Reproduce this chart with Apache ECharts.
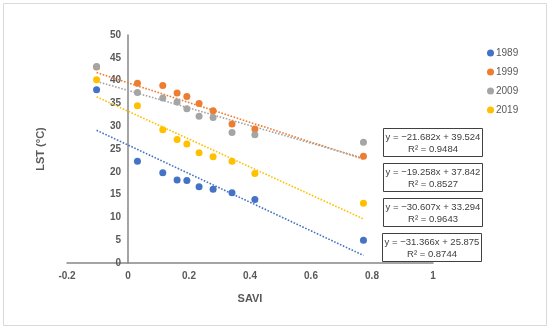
<!DOCTYPE html>
<html>
<head>
<meta charset="utf-8">
<script src="https://cdn.jsdelivr.net/npm/echarts@6/dist/echarts.min.js"></script>
<style>
html,body{margin:0;padding:0;background:#fff;}
#c{width:550px;height:330px;}
</style>
</head>
<body>
<div id="c"></div>
<script>
// SAVI values (x)
const saviX = [-0.103, 0.031, 0.114, 0.161, 0.193, 0.233, 0.279, 0.341, 0.416, 0.772];
// LST values per year (y)
const lst1989 = [38.0, 22.3, 19.8, 18.2, 18.1, 16.7, 16.2, 15.4, 13.9, 5.0];
const lst1999 = [43.0, 39.4, 38.9, 37.3, 36.5, 35.0, 33.4, 30.5, 29.4, 23.4];
const lst2009 = [43.1, 37.4, 36.2, 35.3, 33.8, 32.2, 31.9, 28.6, 28.1, 26.5];
const lst2019 = [40.2, 34.5, 29.2, 27.1, 26.1, 24.2, 23.3, 22.3, 19.6, 13.1];
const years = ['1989', '1999', '2009', '2019'];
const colors = ['#4472C4', '#ED7D31', '#A5A5A5', '#FFC000'];
// trendline equations shown in the chart
const slopes = [-31.366, -21.682, -19.258, -30.607];
const intercepts = [25.875, 39.524, 37.842, 33.294];
const r2 = ['0.8744', '0.9484', '0.8527', '0.9643'];
const xTicks = [-0.2, 0, 0.2, 0.4, 0.6, 0.8, 1];
const yTicks = [0, 5, 10, 15, 20, 25, 30, 35, 40, 45, 50];

const allY = [lst1989, lst1999, lst2009, lst2019];
const chart = echarts.init(document.getElementById('c'));

const gridLeft = 67, gridRight = 117;
const xMin = xTicks[0], xMax = xTicks[xTicks.length - 1];
// shift y axis (line + labels) to x = 0, as in the original
const yOffset = -(550 - gridLeft - gridRight) * (0 - xMin) / (xMax - xMin);

const series = [];
years.forEach((yr, i) => {
  const x0 = Math.min(...saviX), x1 = Math.max(...saviX);
  series.push({
    name: 'trend' + yr,
    type: 'line',
    data: [[x0, slopes[i] * x0 + intercepts[i]], [x1, slopes[i] * x1 + intercepts[i]]],
    symbol: 'none',
    lineStyle: { color: colors[i], width: 1.6, type: [1.6, 1.6] },
    silent: true,
    z: 1
  });
});
[0, 1, 2, 3].forEach(i => {
  series.push({
    name: years[i],
    type: 'scatter',
    data: saviX.map((x, k) => [x, allY[i][k]]),
    symbol: 'circle',
    symbolSize: 7,
    itemStyle: { color: colors[i], opacity: 1 },
    z: 3
  });
});

const boxOrder = [1, 2, 3, 0];
const boxTops = [128, 163, 198, 233];
const boxLefts = [383, 383, 383, 382];
const graphics = [{
  type: 'rect', shape: { x: 3.5, y: 3.5, width: 543, height: 322 },
  style: { fill: null, stroke: '#d9d9d9', lineWidth: 1 }, silent: true, z: -1
}];
boxOrder.forEach((i, k) => {
  const s = slopes[i];
  const txt = 'y = \u2212' + Math.abs(s).toFixed(3) + 'x + ' + intercepts[i].toFixed(3) + '\nR\u00B2 = ' + r2[i];
  graphics.push({
    type: 'group', left: boxLefts[k], top: boxTops[k],
    children: [
      { type: 'rect', shape: { x: 0.5, y: 0.5, width: 99, height: 28 },
        style: { fill: '#fff', stroke: '#404040', lineWidth: 1 } },
      { type: 'text', x: 50, y: 15,
        style: { text: txt, fill: '#404040', font: '9.5px "Liberation Sans", Arial, sans-serif',
                 textAlign: 'center', textVerticalAlign: 'middle', lineHeight: 12 } }
    ]
  });
});

chart.setOption({
  animation: false,
  backgroundColor: '#fff',
  grid: { left: gridLeft, right: gridRight, top: 35, bottom: 67, containLabel: false, outerBoundsMode: 'none' },
  legend: {
    data: years,
    orient: 'vertical',
    left: 482, top: 43,
    itemWidth: 7, itemHeight: 7, itemGap: 9,
    icon: 'circle',
    textStyle: { color: '#595959', fontSize: 10, fontFamily: '"Liberation Sans", Arial, sans-serif', padding: [0, 0, 0, -3] }
  },
  xAxis: {
    type: 'value', min: xMin, max: xMax, interval: 0.2,
    name: 'SAVI', nameLocation: 'middle', nameGap: 30,
    nameTextStyle: { color: '#595959', fontSize: 11, fontWeight: 'bold', fontFamily: '"Liberation Sans", Arial, sans-serif' },
    axisLine: { show: true, onZero: false, lineStyle: { color: '#868686', width: 1.5 } },
    axisTick: { show: false },
    splitLine: { show: false },
    axisLabel: {
      color: '#595959', fontSize: 10, fontWeight: 'bold', margin: 8,
      fontFamily: '"Liberation Sans", Arial, sans-serif',
      formatter: v => String(Math.round(v * 10) / 10)
    }
  },
  yAxis: {
    type: 'value', min: yTicks[0], max: yTicks[yTicks.length - 1], interval: 5,
    offset: yOffset,
    name: 'LST (\u00B0C)', nameLocation: 'middle', nameGap: 82, nameRotate: 90,
    nameTextStyle: { color: '#595959', fontSize: 11, fontWeight: 'bold', fontFamily: '"Liberation Sans", Arial, sans-serif' },
    axisLine: { show: true, onZero: false, lineStyle: { color: '#868686', width: 1.5 } },
    axisTick: { show: false },
    splitLine: { show: false },
    axisLabel: { color: '#595959', fontSize: 10, fontWeight: 'bold', margin: 7,
      fontFamily: '"Liberation Sans", Arial, sans-serif' }
  },
  graphic: graphics,
  series: series
});
</script>
</body>
</html>
